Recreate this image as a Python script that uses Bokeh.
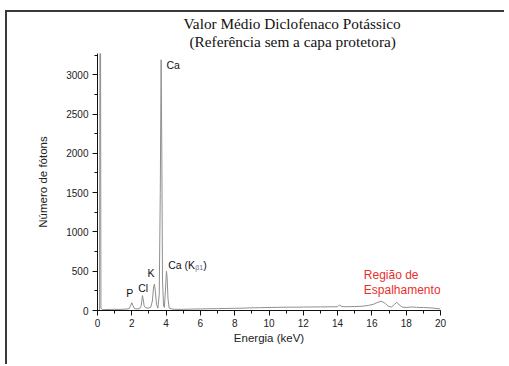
from bokeh.plotting import figure
from bokeh.models import Range1d, Title, FixedTicker, ColumnDataSource
from bokeh.core.properties import value
from bokeh.embed import file_html
from bokeh.resources import INLINE

# ---- data ----
energy_kev = [0.00, 0.12, 0.16, 0.20, 0.30, 0.50, 0.75, 1.00, 1.25, 1.50, 1.70, 1.85, 1.93,
              2.00, 2.07, 2.15, 2.30, 2.45, 2.55, 2.62, 2.66, 2.72, 2.80, 2.95, 3.10, 3.20,
              3.27, 3.32, 3.37, 3.44, 3.52, 3.60, 3.66, 3.71, 3.75, 3.79, 3.85, 3.90, 3.96,
              4.02, 4.06, 4.11, 4.18, 4.30, 4.50, 5.00, 5.50, 6.00, 6.50, 7.00, 7.50, 8.00,
              8.50, 9.00, 9.50, 10.00, 10.50, 11.00, 11.50, 12.00, 12.50, 13.00, 13.50,
              14.00, 14.10, 14.25, 14.50, 15.00, 15.50, 15.80, 16.10, 16.35, 16.55, 16.75,
              16.95, 17.15, 17.30, 17.45, 17.60, 17.75, 18.00, 18.30, 18.60, 19.00, 19.50,
              19.80, 20.00]
photon_counts = [0, 0, 6000, 30, 10, 12, 14, 15, 14, 16, 18, 25, 60,
                 100, 60, 25, 20, 22, 60, 190, 150, 60, 35, 30, 40, 120,
                 300, 335, 250, 80, 30, 200, 1500, 3190, 2000, 400, 60, 40, 250,
                 500, 420, 150, 30, 20, 15, 15, 18, 20, 22, 24, 26, 28,
                 30, 34, 36, 38, 40, 42, 42, 44, 45, 46, 47,
                 48, 70, 50, 48, 50, 55, 65, 80, 105, 118, 95,
                 55, 45, 75, 105, 70, 45, 38, 45, 40, 38, 32,
                 25, 20]

x_ticks = [0, 2, 4, 6, 8, 10, 12, 14, 16, 18, 20]
y_ticks = [0, 500, 1000, 1500, 2000, 2500, 3000]

peak_labels = ["P", "Cl", "K", "Ca", "Ca (K"]
peak_label_x = [1.67, 2.37, 2.92, 4.02, 4.12]
peak_label_y = [220, 288, 474, 3120, 585]

scatter_labels = ["Região de", "Espalhamento"]
scatter_label_x = [15.53, 15.53]
scatter_label_y = [457, 267]

title_lines = ["Valor Médio Diclofenaco Potássico", "(Referência sem a capa protetora)"]
title_offsets = [86, 92]
title_standoffs = [-11, 8]

p = figure(frame_width=343, frame_height=257, width=497, height=352,
           min_border_left=90, min_border_right=64, min_border_top=41, min_border_bottom=54,
           output_backend="svg", toolbar_location=None,
           x_range=Range1d(0, 20), y_range=Range1d(0, 3270))
p.styles = {"border-left": "2px solid #3a3a3a", "border-top": "2px solid #3a3a3a",
            "margin-left": "5px", "margin-top": "10px"}
p.title.visible = False
p.outline_line_color = None
p.background_fill_color = "white"
p.border_fill_color = "white"
p.xgrid.visible = False
p.ygrid.visible = False

for i in reversed(range(len(title_lines))):
    t = Title(text=title_lines[i], align="left", offset=title_offsets[i],
              text_font="Liberation Serif", text_font_size="15.3px",
              text_font_style="normal", text_color="#111111",
              standoff=title_standoffs[i])
    p.add_layout(t, "above")

src = ColumnDataSource(dict(x=energy_kev, y=photon_counts))
p.line("x", "y", source=src, line_color="#8f8f8f", line_width=1)

lbl = ColumnDataSource(dict(x=peak_label_x, y=peak_label_y, t=peak_labels))
p.text("x", "y", text="t", source=lbl, text_font=value("Liberation Sans"),
       text_font_size="10.5px", text_baseline="middle", text_align="left", text_color="#111111")
p.text(x=[peak_label_x[4]], y=[peak_label_y[4]], text=["β1"], x_offset=27, y_offset=3,
       text_font=value("Liberation Sans"), text_font_size="7px", text_baseline="middle",
       text_align="left", text_color="#6a6a8a")
p.text(x=[peak_label_x[4]], y=[peak_label_y[4]], text=[")"], x_offset=35,
       text_font=value("Liberation Sans"), text_font_size="10.5px", text_baseline="middle",
       text_align="left", text_color="#111111")
p.text(x=scatter_label_x, y=scatter_label_y, text=scatter_labels,
       text_font=value("Liberation Sans"), text_font_size="12px",
       text_baseline="middle", text_align="left", text_color="#e8302c")

for ax in (p.xaxis[0], p.yaxis[0]):
    ax.axis_line_color = "#111111"
    ax.major_tick_line_color = "#111111"
    ax.minor_tick_line_color = "#111111"
    ax.major_tick_in = 0
    ax.major_tick_out = 5
    ax.minor_tick_in = 0
    ax.minor_tick_out = 3
    ax.major_label_text_font = "Liberation Sans"
    ax.major_label_text_font_size = "10px"
    ax.major_label_text_color = "#222222"
    ax.axis_label_text_font = "Liberation Sans"
    ax.axis_label_text_font_size = "11.5px"
    ax.axis_label_text_font_style = "normal"
    ax.axis_label_text_color = "#222222"

p.xaxis.ticker = FixedTicker(ticks=x_ticks, minor_ticks=list(range(0, 21)))
p.yaxis.ticker = FixedTicker(ticks=y_ticks, minor_ticks=list(range(0, 3300, 250)))
p.xaxis.axis_label = "Energia (keV)"
p.yaxis.axis_label = "Número de fótons"
p.xaxis.major_label_standoff = 3
p.yaxis.major_label_standoff = 4
p.xaxis.axis_label_standoff = 2
p.yaxis.axis_label_standoff = 14

open("out.html", "w").write(file_html(p, INLINE))
